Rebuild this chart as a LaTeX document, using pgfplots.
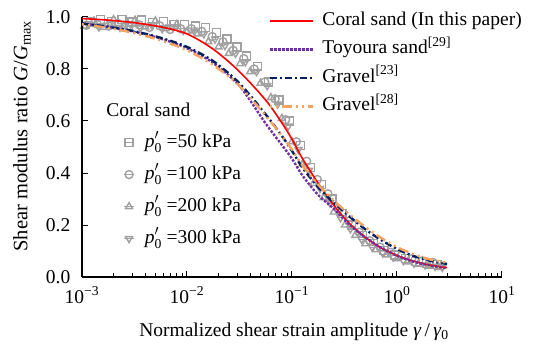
\documentclass[border=0pt]{standalone}
\usepackage{fontspec}
\setmainfont{Liberation Serif}
\usepackage{pgfplots}
\pgfplotsset{compat=1.18}
\definecolor{cred}{HTML}{FF0000}
\definecolor{cpurple}{HTML}{7030A0}
\definecolor{cnavy}{HTML}{002060}
\definecolor{corange}{HTML}{F4A460}
\definecolor{cgray}{HTML}{A0A0A0}
\pgfplotsset{
  gmark/.style={only marks, color=cgray, mark size=4pt, line width=1.4pt, mark options={fill=none, solid}},
  scatleg/.style={legend image code/.code={\path (0pt,0pt) -- (10pt,0pt); \draw[##1] plot coordinates {(5pt,0pt)};}},
  lineleg/.style={legend image code/.code={\draw[##1] (0pt,0pt) -- (43pt,0pt);}},
}
\begin{document}
\fontsize{19.5}{23}\selectfont
\begin{tikzpicture}
\path[use as bounding box] (-82pt,-74pt) rectangle (462pt,277pt);
% ---------- scatter data ----------
\begin{axis}[at={(0pt,0pt)}, anchor=south west, scale only axis,
  width=420pt, height=260pt, xmode=log, xmin=1e-3, xmax=10, ymin=0, ymax=1,
  axis lines=none, clip=false,
  legend cell align=left, scatleg,
  legend style={at={(rel axis cs:0.098,0.562)}, anchor=north west, draw=none, fill=none,
    inner sep=0pt, column sep=8pt, row sep=9pt,
    nodes={text height=14pt, text depth=5pt, inner sep=2pt}}]
\addplot[gmark, mark=square] coordinates {
(0.0012,0.98) (0.0015,0.99) (0.0019,0.982) (0.0024,0.99) (0.003,0.98) (0.0037,0.988)
(0.0047,0.978) (0.006,0.982) (0.0075,0.97) (0.0095,0.972) (0.012,0.965) (0.015,0.96)
(0.019,0.94) (0.024,0.915) (0.03,0.885) (0.037,0.85) (0.047,0.81) (0.06,0.75)
(0.075,0.68) (0.095,0.6) (0.12,0.505) (0.15,0.42) (0.19,0.355) (0.24,0.3)
(0.3,0.245) (0.37,0.2) (0.47,0.16) (0.6,0.128) (0.75,0.103) (0.95,0.085)
(1.2,0.07) (1.5,0.06) (1.9,0.052) (2.4,0.047)};
\addlegendentry{\textit{p}$^{\prime}_{\mathrm{0}}$ =50 kPa}
\addplot[gmark, mark=o] coordinates {
(0.0011,0.968) (0.0014,0.972) (0.0018,0.965) (0.0022,0.975) (0.0028,0.962) (0.0035,0.97)
(0.0044,0.96) (0.0055,0.966) (0.0069,0.952) (0.0087,0.955) (0.011,0.955) (0.0138,0.945)
(0.0174,0.925) (0.022,0.905) (0.0275,0.872) (0.0347,0.84) (0.0437,0.80) (0.055,0.75)
(0.069,0.685) (0.087,0.605) (0.11,0.52) (0.138,0.445) (0.174,0.375) (0.22,0.32)
(0.275,0.262) (0.347,0.215) (0.437,0.172) (0.55,0.14) (0.69,0.115) (0.87,0.095)
(1.1,0.082) (1.38,0.07) (1.74,0.062) (2.2,0.056)};
\addlegendentry{\textit{p}$^{\prime}_{\mathrm{0}}$ =100 kPa}
\addplot[gmark, mark=triangle] coordinates {
(0.00105,0.965) (0.0013,0.985) (0.0016,0.96) (0.002,0.99) (0.0025,0.965) (0.0032,0.988)
(0.004,0.962) (0.005,0.985) (0.0063,0.955) (0.008,0.972) (0.01,0.945) (0.0126,0.935)
(0.016,0.905) (0.02,0.885) (0.025,0.86) (0.032,0.82) (0.04,0.79) (0.05,0.745)
(0.063,0.69) (0.08,0.61) (0.1,0.52) (0.126,0.435) (0.16,0.36) (0.2,0.305)
(0.25,0.25) (0.32,0.2) (0.4,0.16) (0.5,0.128) (0.63,0.105) (0.8,0.085)
(1.0,0.07) (1.26,0.058) (1.6,0.048) (2.0,0.042) (2.5,0.037)};
\addlegendentry{\textit{p}$^{\prime}_{\mathrm{0}}$ =200 kPa}
\addplot[gmark, mark=triangle, mark options={rotate=180}] coordinates {
(0.00115,0.975) (0.00145,0.962) (0.00185,0.978) (0.0023,0.96) (0.0029,0.972) (0.0036,0.958)
(0.0046,0.97) (0.0058,0.955) (0.0073,0.962) (0.0092,0.948) (0.0115,0.95) (0.0145,0.935)
(0.0185,0.915) (0.023,0.89) (0.029,0.86) (0.036,0.828) (0.046,0.79) (0.058,0.735)
(0.073,0.665) (0.092,0.58) (0.115,0.49) (0.145,0.41) (0.185,0.34) (0.23,0.285)
(0.29,0.228) (0.36,0.185) (0.46,0.145) (0.58,0.115) (0.73,0.093) (0.92,0.076)
(1.15,0.063) (1.45,0.053) (1.85,0.046) (2.3,0.041) (2.7,0.037)};
\addlegendentry{\textit{p}$^{\prime}_{\mathrm{0}}$ =300 kPa}
\node[anchor=west] at (rel axis cs:0.042,0.642) {Coral sand};
\end{axis}
% ---------- curves and axes ----------
\begin{axis}[at={(0pt,0pt)}, anchor=south west, scale only axis,
  width=420pt, height=260pt, xmode=log, xmin=1e-3, xmax=10, ymin=0, ymax=1,
  axis lines*=left, axis line style={line width=1.2pt, black},
  tick align=inside, major tick length=6pt, minor tick length=4pt,
  tick style={line width=1pt, black},
  xtick={1e-3,1e-2,1e-1,1,10},
  xticklabels={10\textsuperscript{−3},10\textsuperscript{−2},10\textsuperscript{−1},10\textsuperscript{0},10\textsuperscript{1}},
  xticklabel shift=3pt,
  ytick={0,0.2,0.4,0.6,0.8,1.0},
  yticklabels={0.0,0.2,0.4,0.6,0.8,1.0},
  yticklabel shift=5pt,
  xlabel={Normalized shear strain amplitude \textit{γ}\,/\,\textit{γ}\textsubscript{0}},
  ylabel={Shear modulus ratio \textit{G}/\textit{G}\textsubscript{max}},
  xlabel style={at={(rel axis cs:0.5,0)}, anchor=center, yshift=-55pt, xshift=2pt},
  ylabel style={at={(rel axis cs:-0.143,0.542)}, anchor=center, font=\fontsize{20.5}{24}\selectfont},
  legend cell align=left, lineleg,
  legend style={at={(rel axis cs:0.445,1.03)}, anchor=north west, draw=none, fill=none,
    inner sep=0pt, column sep=6pt, row sep=5.5pt,
    nodes={text height=14pt, text depth=5pt, inner sep=2pt}}]
\addplot[cred, line width=1.6pt, smooth] coordinates {
(0.001,0.994) (0.00178,0.988) (0.00316,0.978) (0.00562,0.962) (0.01,0.935) (0.0178,0.876)
(0.0316,0.79) (0.0562,0.68) (0.0794,0.595) (0.1,0.53) (0.126,0.455) (0.178,0.36)
(0.251,0.275) (0.355,0.205) (0.501,0.152) (0.708,0.112) (1,0.083) (1.41,0.062)
(2.0,0.047) (2.63,0.039) (3.0,0.036)};
\addlegendentry{Coral sand (In this paper)}
\addplot[cpurple, line width=2.4pt, dash pattern=on 2.5pt off 1.5pt, smooth] coordinates {
(0.001,0.975) (0.00178,0.962) (0.00316,0.943) (0.00562,0.917) (0.01,0.88) (0.0178,0.823)
(0.0316,0.735) (0.0562,0.59) (0.0794,0.51) (0.1,0.455) (0.126,0.39) (0.178,0.315)
(0.251,0.262) (0.355,0.2) (0.501,0.152) (0.708,0.112) (1,0.082) (1.41,0.06)
(2.0,0.045) (2.63,0.037) (3.0,0.034)};
\addlegendentry{Toyoura sand\textsuperscript{[29]}}
\addplot[cnavy, line width=2.4pt, dash pattern=on 7pt off 3pt on 2pt off 3pt, smooth] coordinates {
(0.001,0.975) (0.00178,0.962) (0.00316,0.945) (0.00562,0.92) (0.01,0.885) (0.0178,0.83)
(0.0316,0.745) (0.0562,0.625) (0.0794,0.545) (0.1,0.485) (0.126,0.42) (0.178,0.345)
(0.251,0.285) (0.355,0.232) (0.501,0.183) (0.708,0.142) (1,0.108) (1.41,0.082)
(2.0,0.064) (2.63,0.054) (3.0,0.05)};
\addlegendentry{Gravel\textsuperscript{[23]}}
\addplot[corange, line width=2.4pt, dash pattern=on 2pt off 4pt on 2pt off 4pt on 10pt off 4pt, smooth] coordinates {
(0.001,0.972) (0.00178,0.958) (0.00316,0.938) (0.00562,0.91) (0.01,0.872) (0.0178,0.815)
(0.0316,0.735) (0.0562,0.62) (0.0794,0.545) (0.1,0.49) (0.126,0.428) (0.178,0.355)
(0.251,0.293) (0.355,0.24) (0.501,0.192) (0.708,0.15) (1,0.115) (1.41,0.089)
(2.0,0.069) (2.63,0.059) (3.0,0.055)};
\addlegendentry{Gravel\textsuperscript{[28]}}
\end{axis}
\end{tikzpicture}
\end{document}
